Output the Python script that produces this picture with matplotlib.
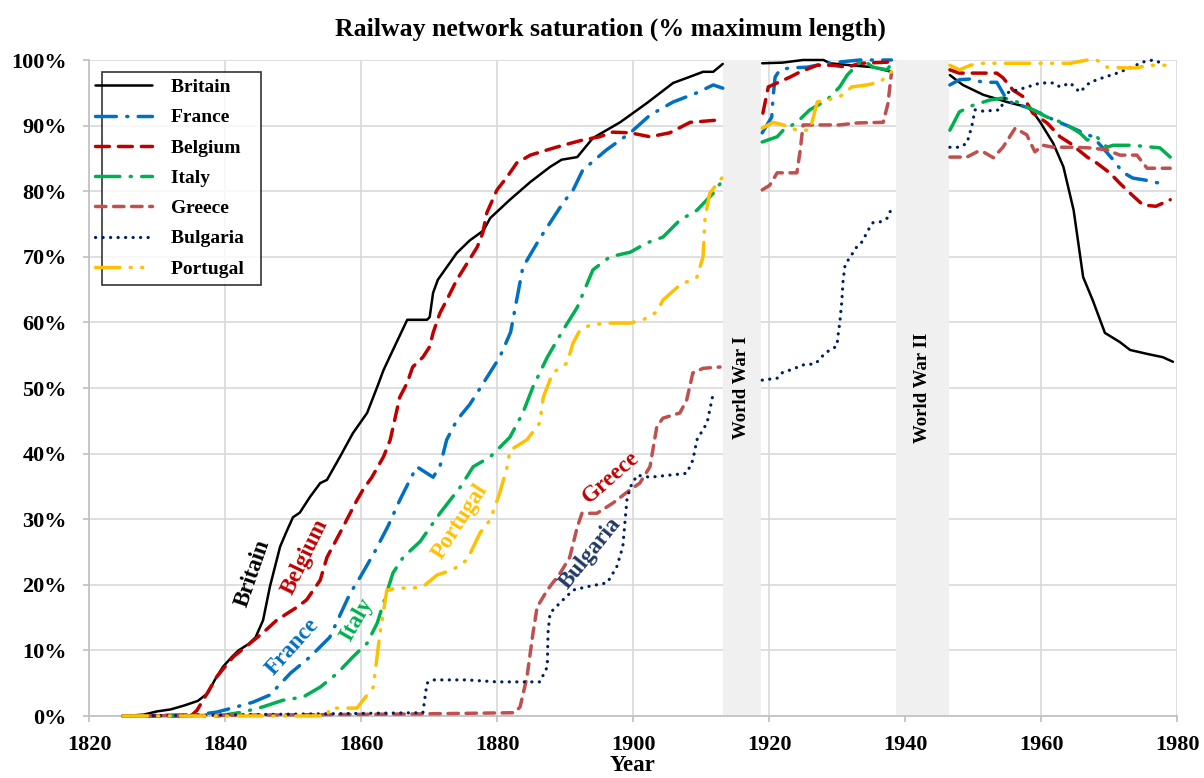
import numpy as np
import matplotlib
matplotlib.use("Agg")
import matplotlib.pyplot as plt
from matplotlib.legend_handler import HandlerLine2D

nan = np.nan

# ---------------- data (year, % of maximum length) ----------------
britain_years = [1825, 1828, 1830, 1832, 1834, 1836, 1837.5, 1838.5, 1839.7, 1841, 1842, 1843.5, 1844.5,
                 1845.6, 1846.6, 1848.1, 1849, 1850, 1851, 1852.5, 1854, 1855, 1856.9, 1858.8, 1860.9,
                 1862.4, 1863.3, 1864.7, 1866.8, 1869.7, 1870.1, 1870.6, 1871.3, 1874.1, 1876, 1878, 1879,
                 1881.9, 1884.9, 1887.8, 1889.5, 1891.8, 1894.1, 1898.1, 1902, 1905.9, 1908, 1910.3, 1911.8,
                 1913.2, 1916, 1919, 1922, 1925, 1928, 1929, 1932, 1935.3, 1938, 1942, 1946.6, 1948.5,
                 1951.5, 1955, 1958.4, 1959.9, 1961.8, 1963.3, 1964.8, 1966.2, 1967.6, 1969.4, 1971.6,
                 1973.1, 1975.6, 1977.9, 1979.4]
britain_vals = [0, 0.2, 0.7, 1.0, 1.6, 2.3, 3.5, 5.5, 7.5, 9.0, 10.0, 11.0, 12.0,
                14.6, 19.7, 25.8, 28.0, 30.3, 31.0, 33.4, 35.5, 36.0, 39.5, 43.1, 46.2,
                50.2, 52.7, 55.8, 60.4, 60.4, 60.8, 64.5, 66.5, 70.6, 72.5, 74.0, 75.9,
                78.7, 81.4, 83.7, 84.8, 85.2, 88.1, 90.5, 93.4, 96.5, 97.3, 98.2, 98.2,
                99.4, nan, 99.5, 99.6, 100, 100, 99.5, 99.2, 98.9, 98.2, nan, 97.7, 96.2,
                94.7, 93.6, 92.7, 90.5, 87.3, 83.7, 77.1, 66.9, 63.4, 58.4, 57.0,
                55.8, 55.2, 54.7, 54.0]

france_years = [1825, 1836, 1838.8, 1841, 1844.1, 1846.6, 1849.6, 1852.5, 1855.4, 1858.4, 1859.9, 1862,
                1864, 1865.7, 1867.2, 1868.2, 1869.7, 1870.6, 1871.6, 1872.6, 1874.1, 1876, 1879, 1880.4,
                1882, 1883.8, 1886.3, 1889.7, 1891.2, 1892.6, 1896.1, 1899.6, 1902.5, 1905.9, 1909.4,
                1911.8, 1913.2, 1916, 1919, 1920.4, 1920.6, 1920.9, 1921.6, 1923.1, 1925.6, 1928.5,
                1930.4, 1933.4, 1938, 1942, 1946.6, 1948, 1949.6, 1951.5, 1953.5, 1955, 1955.9, 1957.9,
                1959.9, 1961.8, 1964.3, 1966.2, 1967.6, 1969.1, 1970.6, 1972, 1973.5, 1975.3, 1977.5]
france_vals = [0, 0.2, 0.6, 1.2, 2.1, 3.2, 6.5, 9.0, 12.0, 18.7, 21.2, 25.0,
               29.0, 32.9, 36.0, 38.0, 37.0, 36.4, 38.0, 42.1, 45.1, 47.5, 52.4, 54.7,
               58.5, 68.4, 72.8, 78.2, 80.2, 83.2, 86.3, 88.9, 91.6, 93.6, 95.0,
               96.2, 95.7, nan, 88.9, 91.3, 94.4, 97.4, 98.5, 98.8, 98.9, 99.5,
               99.7, 100, 100, nan, 96.2, 97.0, 97.1, 96.6, 96.6, 93.9, 93.4, 92.8,
               91.9, 90.9, 89.8, 88.9, 88.3, 86.6, 84.8, 82.9, 82.0, 81.7, 81.2]

belgium_years = [1825, 1835, 1835.9, 1837.4, 1838.8, 1841.2, 1843.7, 1845.6, 1847.6, 1850.6, 1852, 1854,
                 1855, 1856.9, 1859.4, 1860.3, 1861.6, 1863.3, 1864.3, 1865.7, 1866.8, 1867.6, 1869.1,
                 1870.1, 1870.6, 1871.6, 1872.6, 1874.1, 1875.6, 1877.1, 1877.9, 1878.5, 1880, 1881.5,
                 1882.9, 1884.9, 1887.4, 1889.7, 1892.6, 1895.1, 1897, 1899.6, 1902.5, 1905.4, 1908.4,
                 1913.2, 1916, 1919.1, 1919.9, 1921.2, 1923.1, 1924.6, 1927.1, 1929.4, 1931.5, 1933.4,
                 1938, 1942, 1946.6, 1948, 1950, 1953.5, 1954.4, 1955.9, 1957.4, 1958.8, 1960.9, 1962.8,
                 1964.3, 1966.8, 1968.2, 1970.1, 1971.6, 1973.1, 1975, 1976.9, 1979]
belgium_vals = [0, 0, 0.9, 3.5, 6.0, 9.0, 11.1, 12.7, 14.6, 16.6, 17.7, 20.7,
                24.2, 27.9, 32.9, 34.5, 36.4, 39.5, 42.1, 48.6, 50.8, 53.2, 54.7,
                56.3, 58.4, 61.4, 63.4, 66.5, 69.0, 71.5, 73.6, 76.7, 80.2, 82.2,
                84.3, 85.5, 86.3, 87.0, 87.8, 88.3, 89.0, 88.9, 88.3, 88.9, 90.5,
                90.9, nan, 91.9, 95.9, 96.5, 97.4, 98.2, 99.2, 99.2, 98.9, 99.5,
                99.7, nan, 98.5, 98.0, 98.0, 98.0, 97.3, 95.4, 94.4, 91.9, 90.4, 88.3,
                87.3, 85.2, 84.3, 82.8, 81.2, 79.7, 77.9, 77.7, 78.7]

italy_years = [1825, 1839, 1842.6, 1845.6, 1848.5, 1851.5, 1854, 1856.5, 1858.8, 1860.9, 1862.4, 1863.3,
               1864.7, 1866.2, 1868.7, 1871.6, 1874.6, 1876.5, 1879, 1881.9, 1883.8, 1885.3, 1887.4,
               1889.7, 1891.8, 1894.1, 1896.6, 1899.6, 1902, 1904.4, 1906.9, 1909.4, 1911.8, 1913.2,
               1916, 1919, 1921.2, 1922.1, 1924.1, 1926, 1928.5, 1930.4, 1931.5, 1932.9, 1933.8, 1935.3,
               1937.4, 1938, 1942, 1946.6, 1948, 1950, 1952.5, 1954.4, 1955.9, 1957.4, 1958.8, 1960.9,
               1963.3, 1965.7, 1966.8, 1968.2, 1969.7, 1970.6, 1973.5, 1976.5, 1977.5, 1979]
italy_vals = [0, 0, 0.6, 1.4, 2.4, 2.9, 4.4, 6.5, 9.0, 11.1, 14.2, 17.2,
              21.8, 24.2, 26.6, 30.9, 34.9, 38.0, 39.5, 42.5, 46.2, 50.2, 54.7,
              58.8, 62.3, 68.0, 70.0, 70.7, 72.1, 73.0, 75.6, 77.1, 79.7, 81.7,
              nan, 87.5, 88.3, 89.3, 90.5, 92.4, 93.9, 95.9, 97.7, 99.2, 100, 98.9,
              98.5, 99.5, nan, 89.3, 92.1, 93.1, 93.9, 94.2, 93.9, 93.1, 92.4, 91.3,
              90.4, 88.9, 87.8, 88.3, 86.7, 87.0, 87.0, 86.7, 86.6, 85.2]

greece_years = [1825, 1867, 1882.6, 1883.4, 1884.4, 1885.3, 1885.9, 1887.4, 1889.3, 1890.7, 1891.8,
                1892.5, 1894.7, 1897.1, 1899.6, 1901, 1902.5, 1903.5, 1904.4, 1906.9, 1907.9, 1908.8,
                1910.3, 1912.8, 1916, 1919, 1920.1, 1921.2, 1924.1, 1924.6, 1925, 1926.5, 1930.4,
                1932.9, 1936.8, 1937.5, 1938, 1942, 1946.6, 1949.1, 1950.6, 1951.5, 1953, 1954.4,
                1956.2, 1957.9, 1959.1, 1960.3, 1961.8, 1964.7, 1967.2, 1969.7, 1971.6, 1974.1,
                1975.6, 1977.5, 1979]
greece_vals = [0, 0.3, 0.5, 1.4, 5.9, 12.7, 16.6, 19.2, 21.8, 24.2, 28.8,
               30.9, 30.9, 32.5, 34.5, 35.5, 38.0, 44.1, 45.4, 46.2, 48.2, 52.3,
               53.0, 53.2, nan, 80.2, 80.9, 82.8, 82.8, 86.3, 90.1, 90.1, 90.1,
               90.4, 90.5, 93.4, 98.0, nan, 85.2, 85.2, 86.0, 86.0, 85.1, 86.7,
               89.6, 88.6, 86.0, 87.0, 86.7, 86.7, 86.6, 86.3, 85.5, 85.5,
               83.5, 83.5, 83.5]

bulgaria_years = [1825, 1869.1, 1869.7, 1870.6, 1875.6, 1880, 1886.3, 1887.4, 1887.5, 1887.8, 1889.7,
                  1891.2, 1893.2, 1896.2, 1897.6, 1898.5, 1899.1, 1899.6, 1900.6, 1902.5, 1907.9, 1908.8,
                  1909.4, 1910.9, 1911.8, 1916, 1919, 1921.2, 1921.9, 1923.8, 1924.9, 1926.8, 1927.5,
                  1928.2, 1930, 1930.1, 1930.4, 1930.7, 1930.9, 1931.2, 1932.9, 1933.7, 1934.6, 1935.3,
                  1936.3, 1937.4, 1937.8, 1938, 1942, 1946.6, 1948, 1949.1, 1949.8, 1950.3, 1951.5,
                  1954, 1955, 1957.4, 1959.9, 1961.8, 1962.8, 1964.3, 1965.7, 1967.2, 1969.1, 1971.2,
                  1973.1, 1975, 1976.5, 1977.8]
bulgaria_vals = [0, 0.5, 5.0, 5.5, 5.5, 5.2, 5.2, 7.5, 12.7, 15.7, 17.7,
                 19.2, 19.7, 20.3, 22.7, 25.8, 32.9, 34.9, 36.7, 36.4, 37.0, 39.0,
                 42.1, 44.7, 49.2, nan, 51.2, 51.5, 52.3, 53.0, 53.5, 53.7, 54.4,
                 55.3, 56.4, 57.6, 59.9, 63.1, 66.5, 68.8, 71.5, 72.3, 74.1, 75.2,
                 75.3, 75.9, 76.8, 77.9, nan, 86.7, 86.7, 87.3, 89.8, 92.4, 92.2,
                 92.4, 95.0, 95.7, 96.5, 96.5, 95.9, 96.5, 95.1, 96.6, 97.3, 98.0,
                 98.8, 99.7, 100, 99.5]

portugal_years = [1825, 1855, 1855.4, 1859.4, 1861.8, 1862.8, 1863.8, 1865.3, 1867.6, 1869.1, 1871.2,
                  1873.5, 1875.6, 1877.5, 1879, 1880.4, 1881.5, 1881.9, 1884.4, 1886.3, 1886.8, 1888.2,
                  1890.3, 1891.2, 1892.2, 1893.7, 1896.2, 1899.6, 1901.5, 1903.5, 1904.4, 1906.9, 1909.4,
                  1910.3, 1910.6, 1911.3, 1913.2, 1916, 1919, 1920.6, 1922.1, 1924.1, 1926, 1926.8,
                  1927.1, 1928.5, 1930.4, 1932.2, 1934.4, 1936.3, 1938, 1942, 1946.6, 1948, 1949.6,
                  1951.5, 1954, 1957.4, 1959.9, 1964.3, 1966.8, 1968.2, 1969.7, 1972, 1974.1, 1975.6,
                  1977.5, 1979]
portugal_vals = [0, 0, 1.2, 1.2, 4.4, 12.7, 19.2, 19.5, 19.5, 19.7, 21.5,
                 22.3, 23.8, 27.9, 29.9, 34.0, 38.0, 40.5, 42.1, 44.7, 48.6, 52.3,
                 53.8, 56.9, 58.8, 59.6, 59.9, 59.9, 60.4, 61.6, 63.4, 65.7, 66.9,
                 70.0, 76.1, 79.7, 82.2, nan, 89.6, 90.5, 90.1, 89.3, 89.3, 92.4,
                 93.6, 93.9, 94.4, 95.9, 96.2, 96.6, 98.2, nan, 99.2, 98.5, 99.2,
                 99.5, 99.5, 99.5, 99.5, 99.5, 100, 100, 98.9, 98.8, 98.8, 99.2,
                 99.2, 99.2]

series_names = ["Britain", "France", "Belgium", "Italy", "Greece", "Bulgaria", "Portugal"]
series_years = [britain_years, france_years, belgium_years, italy_years, greece_years, bulgaria_years,
                portugal_years]
series_vals = [britain_vals, france_vals, belgium_vals, italy_vals, greece_vals, bulgaria_vals,
               portugal_vals]

war_labels = ["World War I", "World War II"]
war_spans = [(1913.2, 1918.8), (1938.7, 1946.5)]

x_ticks = list(range(1820, 1981, 20))
y_ticks = list(range(0, 101, 10))

# ---------------- styles ----------------
colors = {"Britain": "#000000", "France": "#0070C0", "Belgium": "#C00000", "Italy": "#00B050",
          "Greece": "#C0504D", "Bulgaria": "#002060", "Portugal": "#FFC000"}
dash_styles = {"Britain": None, "France": (6, 3, 0.3, 3), "Belgium": (4, 2.6), "Italy": (7, 3, 0.3, 3),
               "Greece": (3, 2.2), "Bulgaria": (0.05, 2.3), "Portugal": (7, 3, 0.3, 3, 0.3, 3)}
widths = {"Britain": 1.8, "France": 2.5, "Belgium": 2.5, "Italy": 2.5, "Greece": 2.5, "Bulgaria": 2.3,
          "Portugal": 2.5}

SERIF = ["Liberation Serif", "DejaVu Serif"]
plt.rcParams["font.family"] = SERIF
plt.rcParams["font.weight"] = "bold"

fig = plt.figure(figsize=(12.04, 7.78), dpi=100)
ax = fig.add_axes([89 / 1204, 1 - 716 / 778, (1177 - 89) / 1204, (716 - 60) / 778])

ax.set_xlim(1820, 1980)
ax.set_ylim(0, 100)

ax.grid(True, color="#d9d9d9", linewidth=1.2, zorder=0)
ax.set_axisbelow(True)

for (a, b), lab in zip(war_spans, war_labels):
    ax.axvspan(a, b, color="#f0f0f0", zorder=1, linewidth=0)
    ax.text((a + b) / 2, 50, lab, rotation=90, ha="center", va="center", fontsize=13.5,
            fontweight="bold", color="black", zorder=2)

for name, xs, ys in zip(series_names, series_years, series_vals):
    line, = ax.plot(xs, ys, color=colors[name], linewidth=widths[name], label=name + "  ", zorder=3,
                    clip_on=False, solid_capstyle="round", dash_capstyle="round")
    if dash_styles[name] is not None:
        line.set_dashes(dash_styles[name])

# inline labels
labels_pos = [("Britain", 1844.1, 21.8, 71), ("Belgium", 1851.8, 24.2, 64), ("France", 1850.0, 10.5, 48),
              ("Italy", 1859.4, 14.6, 60), ("Portugal", 1874.6, 29.7, 57), ("Greece", 1896.7, 36.4, 41),
              ("Bulgaria", 1893.7, 24.8, 51)]
label_colors = {"Britain": "#000000", "Belgium": "#C00000", "France": "#0070C0", "Italy": "#00B050",
                "Portugal": "#FFC000", "Greece": "#C00000", "Bulgaria": "#1F3864"}
for name, x, y, rot in labels_pos:
    ax.text(x, y, name, rotation=rot, ha="center", va="center", fontsize=16.5, fontweight="bold",
            color=label_colors[name], zorder=4, rotation_mode="anchor")

ax.set_xticks(x_ticks)
ax.set_yticks(y_ticks)
ax.set_yticklabels([f"{v}%" for v in y_ticks])
ax.tick_params(axis="both", labelsize=16, colors="#bfbfbf", length=4, width=1.2, direction="out")
for lab in ax.get_xticklabels() + ax.get_yticklabels():
    lab.set_color("black")
    lab.set_fontweight("bold")
ax.tick_params(axis="x", pad=10)
ax.tick_params(axis="y", pad=12)

for side in ["top", "right"]:
    ax.spines[side].set_visible(False)
for side in ["left", "bottom"]:
    ax.spines[side].set_color("#bfbfbf")
    ax.spines[side].set_linewidth(1.2)

ax.set_xlabel("Year", fontsize=16.5, fontweight="bold", labelpad=0)
fig.suptitle("Railway network saturation (% maximum length)", x=0.507, y=0.977, fontsize=18.5,
             fontweight="bold")

leg = ax.legend(loc="upper left", bbox_to_anchor=(0.012, 0.982), borderaxespad=0, fontsize=14,
                frameon=True, fancybox=False, edgecolor="black", handlelength=2.2, labelspacing=0.65,
                borderpad=0.35, handletextpad=1.0,
                handler_map={matplotlib.lines.Line2D: HandlerLine2D(xpad=-0.7)})
leg.get_frame().set_linewidth(1.2)
for t in leg.get_texts():
    t.set_fontweight("bold")
leg.set_zorder(5)

fig.savefig("out.png", dpi=100)
